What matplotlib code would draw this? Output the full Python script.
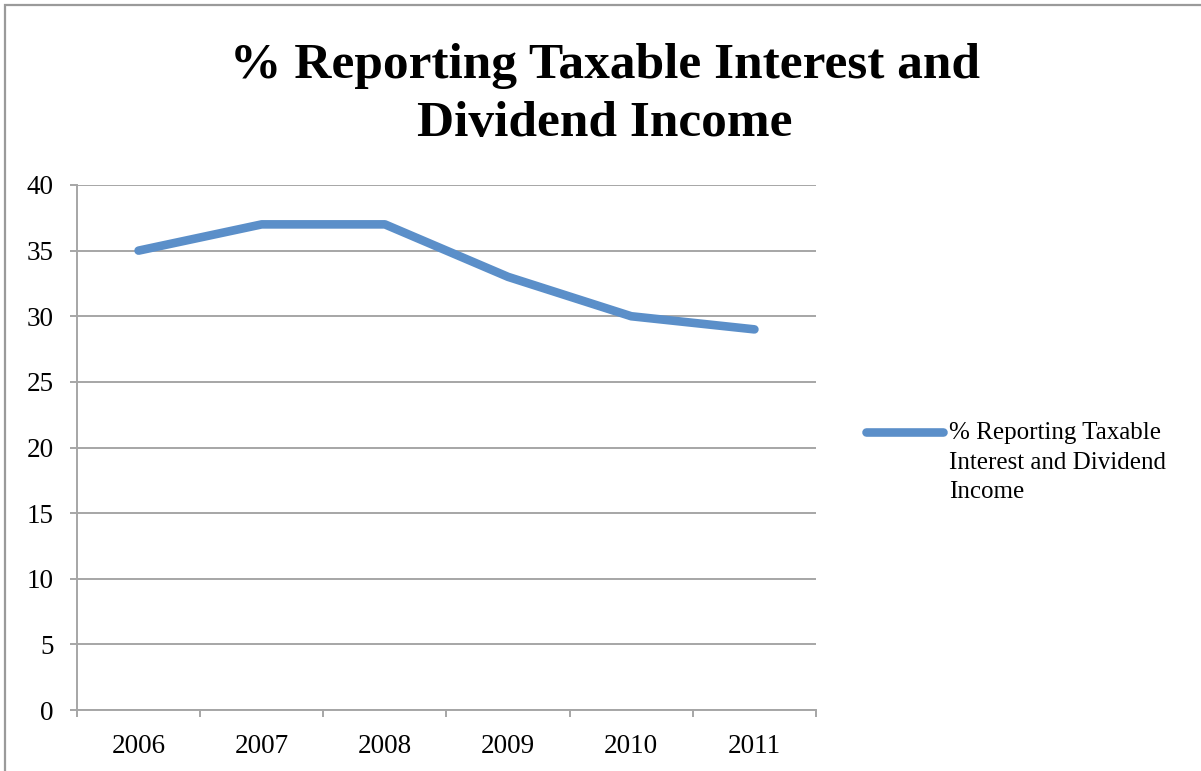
import matplotlib.pyplot as plt
from matplotlib.lines import Line2D
from matplotlib.patches import Rectangle
import numpy as np

years = ['2006', '2007', '2008', '2009', '2010', '2011']
pct_reporting = [35, 37, 37, 33, 30, 29]
legend_text = '% Reporting Taxable\nInterest and Dividend\nIncome'
y_ticks = [0, 5, 10, 15, 20, 25, 30, 35, 40]

line_color = '#5B8FC9'
grid_color = '#A6A6A6'
serif = 'Liberation Serif'

fig = plt.figure(figsize=(12.01, 7.71), dpi=100)
ax = fig.add_axes([77 / 1201, 61 / 771, (816 - 77) / 1201, (710 - 185) / 771])

x = np.arange(len(years))
ax.plot(x, pct_reporting, color=line_color, linewidth=6.2,
        solid_capstyle='round', solid_joinstyle='round', zorder=3)

ax.set_xlim(-0.5, len(years) - 0.5)
ax.set_ylim(0, 40)
ax.set_yticks(y_ticks)
ax.set_yticklabels([str(t) for t in y_ticks])
ax.grid(axis='y', color=grid_color, linewidth=1.4)
ax.set_axisbelow(True)

# category boundaries carry the tick marks, labels sit in between
ax.set_xticks(np.arange(-0.5, len(years)))
ax.set_xticklabels([])
ax.set_xticks(x, minor=True)
ax.set_xticklabels(years, minor=True)
ax.tick_params(axis='x', which='major', direction='out', length=5,
               width=1.4, color=grid_color)
ax.tick_params(axis='x', which='minor', length=0, pad=17)
ax.tick_params(axis='y', direction='out', length=5, width=1.4,
               color=grid_color, pad=12)

for lbl in ax.get_xticklabels(minor=True) + ax.get_yticklabels():
    lbl.set_fontfamily(serif)
    lbl.set_fontsize(19.5)

for side in ['top', 'right']:
    ax.spines[side].set_visible(False)
for side in ['left', 'bottom']:
    ax.spines[side].set_color(grid_color)
    ax.spines[side].set_linewidth(1.4)

fig.text(605 / 1201, 1 - 95 / 771,
         '% Reporting Taxable Interest and\nDividend Income',
         ha='center', va='center', fontsize=37, fontweight='bold',
         family=serif, linespacing=1.35)

# legend drawn by hand so the key sits on the first text line
ly = 1 - 432 / 771
fig.add_artist(Line2D([866 / 1201, 943 / 1201], [ly, ly], color=line_color,
                      linewidth=6.2, solid_capstyle='round'))
fig.text(949 / 1201, 1 - 422 / 771, legend_text, ha='left', va='top',
         fontsize=18, family=serif, linespacing=1.45)

# chart area border
fig.add_artist(Rectangle((5 / 1201, -0.1), 1.2, 1.1 - 5 / 771,
                         transform=fig.transFigure, fill=False,
                         edgecolor='#9A9A9A', linewidth=1.6))

fig.savefig('out.png', dpi=100)
